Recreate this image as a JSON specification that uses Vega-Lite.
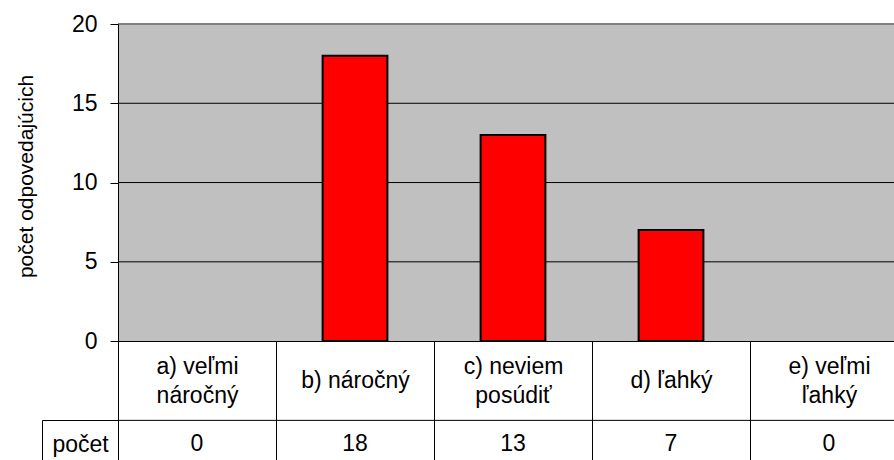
{
  "$schema": "https://vega.github.io/schema/vega-lite/v6.json",
  "width": 776,
  "height": 436,
  "autosize": {"type": "none"},
  "padding": {"left": 118, "top": 24, "right": 0, "bottom": 0},
  "background": "white",
  "config": {
    "view": {"stroke": null},
    "font": "Liberation Sans",
    "axis": {"labelFont": "Liberation Sans", "titleFont": "Liberation Sans"}
  },
  "data": {
    "values": [
      {"kategoria": "a) veľmi náročný", "pocet": 0},
      {"kategoria": "b) náročný", "pocet": 18},
      {"kategoria": "c) neviem posúdiť", "pocet": 13},
      {"kategoria": "d) ľahký", "pocet": 7},
      {"kategoria": "e) veľmi ľahký", "pocet": 0}
    ]
  },
  "layer": [
    {
      "data": {"values": [{}]},
      "mark": {"type": "rect", "color": "#C0C0C0"},
      "encoding": {
        "y": {"datum": 0, "type": "quantitative", "scale": {"domain": [-7.5, 20], "nice": false, "zero": false}, "axis": null},
        "y2": {"datum": 20}
      }
    },
    {
      "data": {"values": [{"v": 5}, {"v": 10}, {"v": 15}]},
      "mark": {"type": "rule", "color": "black", "strokeWidth": 1},
      "encoding": {
        "y": {
          "field": "v", "type": "quantitative",
          "scale": {"domain": [-7.5, 20], "nice": false, "zero": false},
          "axis": {
            "orient": "left", "offset": 76, "title": null, "grid": false,
            "ticks": false, "labels": false, "domain": true,
            "domainColor": "black", "domainWidth": 1, "domainDash": [40, 2000], "zindex": 1
          }
        }
      }
    },
    {
      "data": {"values": [{}]},
      "mark": {"type": "rule", "color": "#808080", "strokeWidth": 2},
      "encoding": {"y": {"datum": 20, "type": "quantitative", "axis": null}}
    },
    {
      "mark": {"type": "bar", "color": "#FF0000", "stroke": "black", "width": {"band": 0.41}},
      "encoding": {
        "x": {
          "field": "kategoria", "type": "nominal", "sort": null,
          "scale": {"range": [0, 790], "paddingInner": 0, "paddingOuter": 0},
          "axis": {
            "orient": "bottom", "offset": -119, "title": null, "grid": false,
            "domainColor": "black", "tickColor": "black", "tickSize": 119, "tickBand": "extent",
            "labelFontSize": 23, "labelColor": "black",
            "labelPadding": {"condition": {"test": "length(datum.label) > 10", "value": -94}, "value": -79.5},
            "labelBaseline": "middle", "labelLineHeight": 29, "labelAngle": 0,
            "labelOverlap": false, "labelBound": false, "labelFlush": false,
            "labelExpr": "length(datum.label) > 10 ? [slice(datum.label, 0, lastindexof(datum.label, ' ')), slice(datum.label, lastindexof(datum.label, ' ') + 1)] : datum.label",
            "zindex": 1
          }
        },
        "y": {
          "field": "pocet", "type": "quantitative",
          "scale": {"domain": [-7.5, 20], "nice": false, "zero": false},
          "axis": {
            "orient": "left", "title": "počet odpovedajúcich",
            "values": [-6.5, -5, 0, 5, 10, 15, 20], "grid": false,
            "domainColor": "black", "domainWidth": 1, "tickColor": "black",
            "tickSize": {"condition": {"test": "datum.value == -5", "value": 76}, "value": 8},
            "tickOpacity": {"condition": {"test": "datum.value == -6.5", "value": 0}, "value": 1},
            "labelExpr": "datum.value == -6.5 ? 'počet' : (datum.value == -5 ? '' : datum.label)",
            "labelAlign": {"condition": {"test": "datum.value == -6.5", "value": "center"}, "value": "right"},
            "labelPadding": {"condition": {"test": "datum.value == -6.5", "value": 30}, "value": 13},
            "labelFontSize": 23, "labelColor": "black", "labelBaseline": "middle",
            "labelOverlap": false, "labelBound": false, "labelFlush": false,
            "titleFontSize": 21, "titleFontWeight": "normal", "titleColor": "black",
            "titleX": -92, "titleY": 152, "titleAngle": -90, "titleAlign": "center", "titleBaseline": "middle",
            "zindex": 1
          }
        },
        "strokeWidth": {"condition": {"test": "datum.pocet == 0", "value": 0}, "value": 2}
      }
    },
    {
      "data": {"values": [{}]},
      "mark": {"type": "rule", "color": "black", "strokeWidth": 1},
      "encoding": {"y": {"datum": -5, "type": "quantitative", "axis": null}}
    },
    {
      "mark": {"type": "text", "fontSize": 23, "color": "black", "baseline": "middle", "align": "center", "font": "Liberation Sans"},
      "encoding": {
        "x": {"field": "kategoria", "type": "nominal", "sort": null},
        "y": {"datum": -6.5, "type": "quantitative", "axis": null},
        "text": {"field": "pocet", "type": "quantitative"}
      }
    }
  ],
  "resolve": {"axis": {"y": "independent"}}
}
